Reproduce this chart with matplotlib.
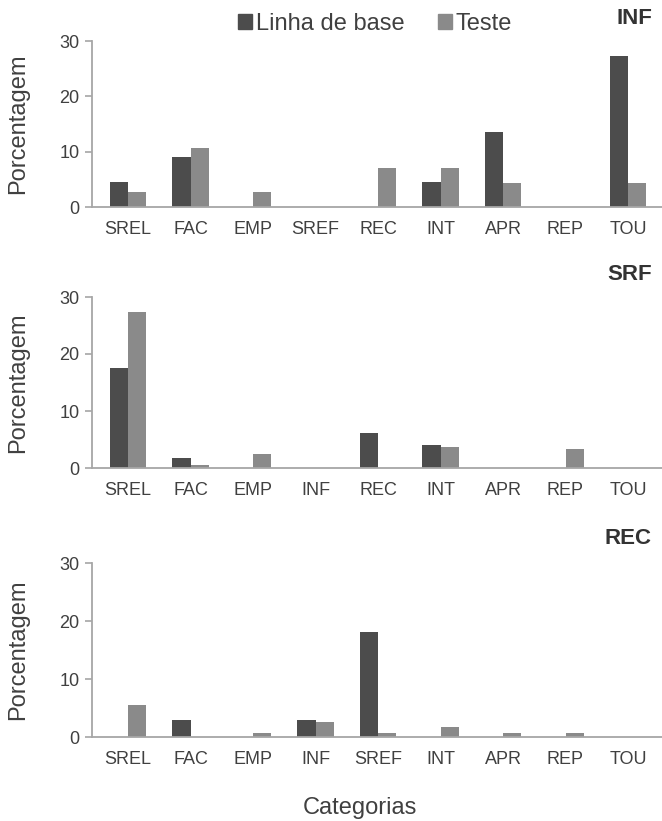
import numpy as np
import matplotlib
matplotlib.use("Agg")
import matplotlib.pyplot as plt
from matplotlib.patches import Patch

plt.rcParams['font.family'] = ['Liberation Sans', 'DejaVu Sans']

# categories per panel (the panel's own category is left out)
cats_inf = ["SREL", "FAC", "EMP", "SREF", "REC", "INT", "APR", "REP", "TOU"]
cats_srf = ["SREL", "FAC", "EMP", "INF", "REC", "INT", "APR", "REP", "TOU"]
cats_rec = ["SREL", "FAC", "EMP", "INF", "SREF", "INT", "APR", "REP", "TOU"]

# percentages
base_inf = [4.5, 9.1, 0, 0, 0, 4.5, 13.6, 0, 27.3]
teste_inf = [2.8, 10.7, 2.8, 0, 7.1, 7.1, 4.4, 0, 4.4]

base_srf = [17.6, 1.7, 0, 0, 6.2, 4.0, 0, 0, 0]
teste_srf = [27.3, 0.5, 2.4, 0, 0, 3.7, 0, 3.3, 0]

base_rec = [0, 2.9, 0, 2.9, 18.1, 0, 0, 0, 0]
teste_rec = [5.5, 0, 0.75, 2.65, 0.75, 1.7, 0.75, 0.75, 0]

titles = ["INF", "SRF", "REC"]

dark = "#4c4c4c"
light = "#8a8a8a"
axis_col = "#a6a6a6"
txt_col = "#404040"

W, H = 662, 821
fig = plt.figure(figsize=(W / 100, H / 100), dpi=100)

# panel boxes in pixels: (top, bottom)
boxes = [(41, 207), (297, 468), (563, 737)]
left_px = 92
title_y = [19, 275, 538]

panels = [(cats_inf, base_inf, teste_inf),
          (cats_srf, base_srf, teste_srf),
          (cats_rec, base_rec, teste_rec)]

w = 0.29
for k, ((top, bot), (cats, b, t)) in enumerate(zip(boxes, panels)):
    ax = fig.add_axes([left_px / W, 1 - bot / H, 1 - left_px / W, (bot - top) / H])
    x = np.arange(len(cats))
    ax.bar(x - w / 2, b, w, color=dark, zorder=2)
    ax.bar(x + w / 2, t, w, color=light, zorder=2)
    ax.set_xlim(-0.576, 8.544)
    ax.set_ylim(0, 30)
    ax.set_yticks([0, 10, 20, 30])
    ax.set_xticks(x)
    ax.set_xticklabels(cats)
    for s in ["top", "right"]:
        ax.spines[s].set_visible(False)
    for s in ["left", "bottom"]:
        ax.spines[s].set_color(axis_col)
        ax.spines[s].set_linewidth(1.3)
    ax.tick_params(axis="x", length=0, pad=10, labelsize=13, labelcolor=txt_col)
    ax.tick_params(axis="y", length=5, width=1.2, color=axis_col, pad=4,
                   labelsize=13, labelcolor=txt_col)
    ax.set_ylabel("Porcentagem", fontsize=17, color=txt_col)
    ax.yaxis.set_label_coords(-0.11, 0.5)
    fig.text(652 / W, 1 - title_y[k] / H, titles[k], ha="right", va="center",
             fontsize=16, fontweight="bold", color="#333333")
    if k == 2:
        ax.set_xlabel("Categorias", fontsize=17, color=txt_col)
        ax.xaxis.set_label_coords((360 - left_px) / (W - left_px), -60 / (bot - top))

handles = [Patch(color=dark, label="Linha de base"), Patch(color=light, label="Teste")]
fig.legend(handles=handles, loc="center", bbox_to_anchor=(375 / W, 1 - 24 / H), ncol=2,
           frameon=False, fontsize=17, handlelength=0.6, handleheight=0.6,
           handletextpad=0.15, columnspacing=1.4, labelcolor=txt_col)

fig.savefig("out.png", dpi=100)
